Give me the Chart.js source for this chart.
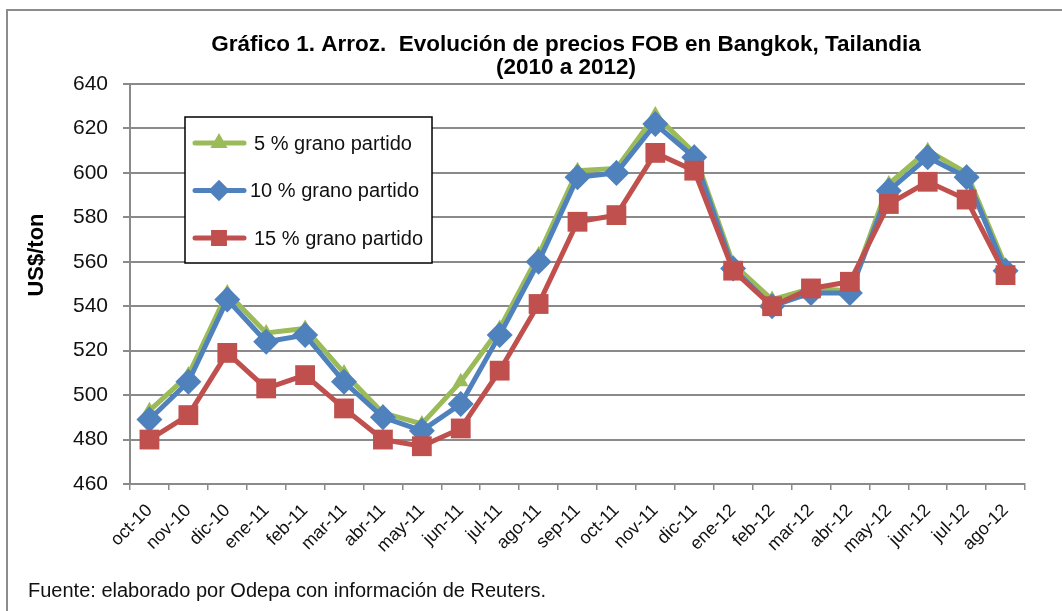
<!DOCTYPE html>
<html>
<head>
<meta charset="utf-8">
<script src="https://cdn.jsdelivr.net/npm/chart.js@4"></script>
<style>
  html, body { margin: 0; padding: 0; background: #fff; }
  canvas { display: block; }
</style>
</head>
<body>
<canvas id="chart" width="1062" height="611"></canvas>
<script>
const months = ['oct-10','nov-10','dic-10','ene-11','feb-11','mar-11','abr-11','may-11','jun-11',
                'jul-11','ago-11','sep-11','oct-11','nov-11','dic-11','ene-12','feb-12','mar-12',
                'abr-12','may-12','jun-12','jul-12','ago-12'];
const grano5  = [493, 509, 546, 528, 530, 510, 492, 487, 506, 530, 563, 601, 602, 626, 609, 559, 543, 548, 547, 595, 610, 600, 558];
const grano10 = [489, 506, 543, 524, 527, 506, 490, 484, 496, 527, 560, 598, 600, 622, 607, 557, 540, 546, 546, 592, 607, 598, 556];
const grano15 = [480, 491, 519, 503, 509, 494, 480, 477, 485, 511, 541, 578, 581, 609, 601, 556, 540, 548, 551, 586, 596, 588, 554];
const yTicks  = [460, 480, 500, 520, 540, 560, 580, 600, 620, 640];

const FONT = '"Liberation Sans", Arial, sans-serif';
const GRID = '#8a8a8a';

const series = [
    { label: '5 % grano partido',  data: grano5,  color: '#9BBB59', style: 'triangle', r: 9,  order: 2 },
    { label: '10 % grano partido', data: grano10, color: '#4F81BD', style: 'rectRot',  r: 13, order: 1 },
    { label: '15 % grano partido', data: grano15, color: '#C0504D', style: 'rect',     r: 14, order: 0 },
];

// title, axis title, footnote, frame and the inner legend box
const decor = {
    id: 'decor',
    afterDraw(chart) {
        const ctx = chart.ctx;
        ctx.save();
        ctx.strokeStyle = '#8c8c8c';
        ctx.lineWidth = 2;
        ctx.beginPath();
        ctx.moveTo(7, 611); ctx.lineTo(7, 10); ctx.lineTo(1062, 10);
        ctx.stroke();

        ctx.fillStyle = '#000';
        ctx.textAlign = 'center';
        ctx.textBaseline = 'middle';
        ctx.font = 'bold 22.5px ' + FONT;
        ctx.fillText('Gráfico 1. Arroz.  Evolución de precios FOB en Bangkok, Tailandia', 566, 45);
        ctx.fillText('(2010 a 2012)', 566, 68);

        ctx.save();
        ctx.translate(37, 255);
        ctx.rotate(-Math.PI / 2);
        ctx.font = 'bold 22px ' + FONT;
        ctx.fillText('US$/ton', 0, 0);
        ctx.restore();

        ctx.textAlign = 'left';
        ctx.font = '20px ' + FONT;
        ctx.fillStyle = '#111';
        ctx.fillText('Fuente: elaborado por Odepa con información de Reuters.', 28, 591);

        // legend
        ctx.fillStyle = '#fff';
        ctx.fillRect(185, 117, 247, 146);
        ctx.strokeStyle = '#000';
        ctx.lineWidth = 1.5;
        ctx.strokeRect(185, 117, 247, 146);
        series.forEach((s, i) => {
            const y = 143 + i * 47.5;
            ctx.strokeStyle = s.color;
            ctx.lineWidth = 5;
            ctx.lineCap = 'round';
            ctx.beginPath();
            ctx.moveTo(195, y); ctx.lineTo(244, y);
            ctx.stroke();
            Chart.helpers.drawPoint(ctx, { pointStyle: s.style, radius: s.r * 0.55, rotation: 0, borderWidth: 1 }, 219, y);
            ctx.fillStyle = s.color;
            ctx.fill();
            ctx.fillStyle = '#111';
            ctx.font = '20px ' + FONT;
            ctx.textAlign = 'left';
            ctx.fillText(s.label, i === 1 ? 250 : 254, y + 1);
        });
        ctx.restore();
    }
};

new Chart(document.getElementById('chart'), {
    type: 'line',
    data: {
        labels: months,
        datasets: series.map(s => ({
            label: s.label,
            data: s.data,
            borderColor: s.color,
            backgroundColor: s.color,
            borderWidth: 5,
            pointStyle: s.style,
            pointRadius: s.r,
            pointBorderWidth: 0,
            pointBackgroundColor: s.color,
            tension: 0,
            order: s.order,
        }))
    },
    options: {
        responsive: false,
        animation: false,
        devicePixelRatio: 1,
        layout: { padding: { left: 0, right: 37, top: 84, bottom: 0 } },
        plugins: { legend: { display: false }, title: { display: false }, tooltip: { enabled: false } },
        scales: {
            x: {
                offset: true,
                grid: { offset: true, drawOnChartArea: false, drawTicks: true, tickLength: 6, color: GRID, lineWidth: 1.5 },
                border: { color: GRID, width: 2 },
                ticks: { font: { family: FONT, size: 18 }, color: '#111', maxRotation: 45, minRotation: 45, padding: 10, autoSkip: false },
                afterFit: sc => { sc.height = 127; }
            },
            y: {
                min: 460, max: 640,
                afterBuildTicks: sc => { sc.ticks = yTicks.map(v => ({ value: v })); },
                grid: { color: GRID, lineWidth: 2, tickLength: 7 },
                border: { color: GRID, width: 2 },
                ticks: { font: { family: FONT, size: 21 }, color: '#111', padding: 15 },
                afterFit: sc => { sc.width = 130; }
            }
        }
    },
    plugins: [decor]
});
</script>
</body>
</html>
